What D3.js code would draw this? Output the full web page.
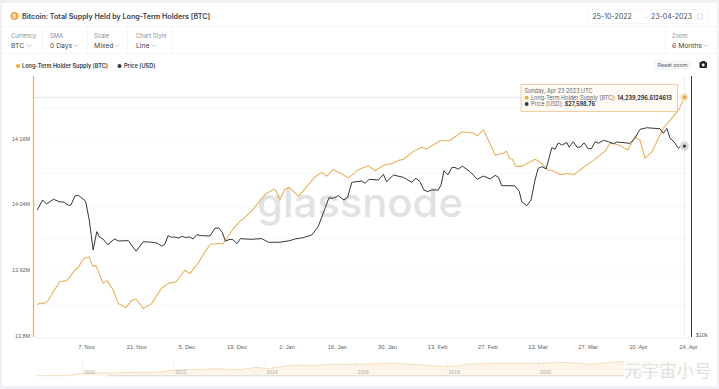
<!DOCTYPE html>
<html>
<head>
<meta charset="utf-8">
<script src="https://cdn.jsdelivr.net/npm/d3@7"></script>
<style>
  html, body { margin: 0; padding: 0; background: #fff; }
  svg { display: block; font-family: Inter, "Noto Sans", sans-serif; }
</style>
</head>
<body>
<svg id="chart" width="719" height="389"></svg>
<script>
// days counted from 7 Nov 2022
const supplyDays = [-13.6,-12.8,-11.7,-10.5,-9.1,-7.3,-5.4,-4.5,-3.1,-2.1,-1,-0.1,0.9,1.8,2.8,4.8,5.9,7.6,9,11.2,12.8,14,16,18.3,21.1,23,25.1,27.6,29,31.3,33.2,34.8,36,36.9,38.2,39.3,41.1,43,43.9,46.7,50,52.3,53,54.1,55.5,56.7,59.3,63.9,65.8,67.2,69,71.4,73.2,76,78.8,80.7,83,85.3,87.2,88.6,91.3,93.7,95.1,98.8,101.4,104.9,108.1,109.2,110.9,112.3,114.2,116.5,117.4,118.1,119,119.9,121.6,125.3,126.7,129,130,132.3,134.6,136.2,138.8,141.6,144.9,146.4,149,151.2,153.2,154.6,156,157.9,161.1,165.3,167];
const supplyValues = [13.86,13.863,13.862,13.868,13.884,13.902,13.904,13.911,13.923,13.928,13.942,13.946,13.947,13.931,13.931,13.899,13.904,13.887,13.862,13.855,13.868,13.87,13.853,13.862,13.89,13.899,13.902,13.923,13.917,13.936,13.957,13.971,13.971,13.972,13.971,13.982,13.999,14.013,14.017,14.035,14.062,14.071,14.069,14.052,14.071,14.075,14.058,14.094,14.102,14.095,14.107,14.099,14.092,14.107,14.114,14.105,14.115,14.118,14.124,14.126,14.14,14.148,14.145,14.16,14.16,14.176,14.174,14.169,14.18,14.161,14.134,14.137,14.141,14.128,14.126,14.113,14.113,14.126,14.121,14.106,14.106,14.098,14.1,14.098,14.111,14.124,14.141,14.157,14.151,14.143,14.167,14.161,14.128,14.139,14.183,14.215,14.2393];

const priceDays = [-13.6,-12.1,-11,-9.1,-7.5,-6.1,-4.9,-4.2,-3.1,-2.1,-0.1,0.9,2,3,3.7,4.8,6.1,7.9,9.1,11.8,14,16,18.3,20,21.1,22,22.9,23.9,24.6,25.8,26.9,27.8,28.8,29.9,30.9,32.3,34.6,36,37.1,38,38.9,40.2,41,42.1,43.1,46.1,49,50.9,54.1,56.9,58.3,60.6,63,64.8,66.2,67.8,69,70.4,72,73,74.2,76.9,77.9,79,81.6,83,83.9,85.8,88.6,90.9,92.1,93.2,94.3,95.3,96.5,98.3,99.1,99.9,101,102.1,103,103.9,105,107.2,109.2,110.9,112.8,114.2,115.1,116,119.7,120.9,121.6,123,124.2,125.3,126.2,127.2,128.4,130,130.9,131.8,132.8,134.2,134.8,136,137,137.9,139,140.2,141.1,142.1,143,144.4,145.8,147.2,148.1,151.8,153.2,154.6,156.5,160.2,161.1,162.1,163,164.1,165.3,166.3,167];
const priceValues = [19570,20650,20210,20730,20470,20400,20080,20100,21100,21180,20510,18550,15790,17420,16950,16720,16250,16750,16570,16600,15680,16510,16460,16370,16120,16280,17050,16900,16930,16840,16990,16870,16950,16750,17140,17050,17020,17750,17750,17350,16570,16720,16690,16340,16780,16720,16780,16460,16460,16600,16750,16870,17110,17900,19230,20900,20840,21130,20650,20950,22710,22870,22590,23080,22990,23690,22780,23610,23320,22710,23200,22780,21790,21610,21790,21790,22390,24170,23630,24580,24580,24360,24770,24040,23080,23490,23120,23580,23330,22310,22280,21640,20460,20020,20650,22990,24480,24700,24390,27350,27120,28070,27740,28120,27420,28240,27420,27420,28070,27160,27260,28240,28000,28450,28240,27910,28200,28000,28770,30180,30440,30280,29540,30330,28770,28240,27260,27740,27598.76];

const tickDays = [0,14,28,42,56,70,84,98,112,126,140,154,168];
const tickLabels = ['7. Nov','21. Nov','5. Dec','19. Dec','2. Jan','16. Jan','30. Jan','13. Feb','27. Feb','13. Mar','27. Mar','10. Apr','24. Apr'];
const supplyTicks = [13.8,13.92,14.04,14.16];
const supplyTickLabels = ['13.8M','13.92M','14.04M','14.16M'];
const supplyGrid = [13.86,13.92,13.98,14.04,14.1,14.16,14.22];

// navigator: whole history, years and supply in millions
const navYears = [2009.01,2009.67,2010,2010.61,2011.71,2012,2012.58,2013.02,2013.46,2013.83,2014.05,2014.62,2015.14,2015.49,2016.08,2016.81,2017.55,2017.83,2018.21,2018.42,2019.15,2019.96,2020.61,2021.12,2021.77,2023.3];
const navValues = [0,0,2.8,2.8,3.8,5.8,6.5,7.2,6.1,8.6,7.2,10.9,10.6,11.6,11.8,12.7,10.9,9.6,9.6,11.8,12.7,12.7,13.7,11.6,14.3,14.2];
const navTicks = [2010,2012,2014,2016,2018,2020,2022];

const orange = '#f0a63c', dark = '#33363c', lineOrange = '#e8b25f';

const svg = d3.select('#chart');

// page frame
svg.append('rect').attr('width', 719).attr('height', 389).attr('fill', '#eff1f4');
svg.append('rect').attr('x', 2).attr('y', 3).attr('width', 715).attr('height', 383).attr('fill', '#fff');

const label = (x, y, text, size, fill, weight, anchor) => svg.append('text')
  .attr('x', x).attr('y', y).attr('dy', '0.35em')
  .attr('font-size', size).attr('fill', fill)
  .attr('font-weight', weight || 400)
  .attr('text-anchor', anchor || 'start')
  .text(text);

const chevron = (x, y) => svg.append('path')
  .attr('d', `M${x - 2.5},${y - 1.2}L${x},${y + 1.2}L${x + 2.5},${y - 1.2}`)
  .attr('fill', 'none').attr('stroke', '#b5b9bf').attr('stroke-width', 0.7);

// header
svg.append('circle').attr('cx', 14.5).attr('cy', 16).attr('r', 4).attr('fill', orange);
label(14.5, 16, '₿', 5, '#fff', 700, 'middle');
label(22, 16, 'Bitcoin: Total Supply Held by Long-Term Holders [BTC]', 7.15, '#3d4148', 600);

svg.append('rect').attr('x', 587.5).attr('y', 9.5).attr('width', 121).attr('height', 14)
  .attr('fill', '#fff').attr('stroke', '#f0f1f3').attr('stroke-width', 0.7);
label(592.5, 16.5, '25-10-2022', 7, '#4a4e55');
label(651, 16.5, '23-04-2023', 7, '#4a4e55');
label(644.5, 16.5, '–', 6, '#c8cacd');
svg.append('rect').attr('x', 697.5).attr('y', 14).attr('width', 5).attr('height', 5)
  .attr('fill', 'none').attr('stroke', '#cfd2d6').attr('stroke-width', 0.7);

[[0, 719, 26.5], [0, 719, 53.5]].forEach(d => svg.append('line')
  .attr('x1', d[0] + 2).attr('x2', d[1] - 2).attr('y1', d[2]).attr('y2', d[2])
  .attr('stroke', '#f1f2f4').attr('stroke-width', 0.8));
[42.5, 87.5, 127.5, 172.5, 665.5].forEach(x => svg.append('line')
  .attr('x1', x).attr('x2', x).attr('y1', 27).attr('y2', 53)
  .attr('stroke', '#f1f2f4').attr('stroke-width', 0.8));

const controls = [
  {x: 11, name: 'Currency', value: 'BTC', cx: 29},
  {x: 50, name: 'SMA', value: '0 Days', cx: 76},
  {x: 94, name: 'Scale', value: 'Mixed', cx: 117},
  {x: 136, name: 'Chart Style', value: 'Line', cx: 154},
  {x: 672, name: 'Zoom', value: '6 Months', cx: 706}
];
controls.forEach(c => {
  label(c.x, 36, c.name, 5.8, '#8c9097');
  label(c.x, 45.5, c.value, 6.8, '#44484f');
  chevron(c.cx, 45.5);
});

// legend
svg.append('circle').attr('cx', 18).attr('cy', 66).attr('r', 2).attr('fill', orange);
label(22, 66, 'Long-Term Holder Supply [BTC]', 5.6, '#33373d', 600);
svg.append('circle').attr('cx', 119.5).attr('cy', 66).attr('r', 2).attr('fill', dark);
label(124, 66, 'Price [USD]', 5.6, '#33373d', 600);

// reset zoom + camera
svg.append('rect').attr('x', 654).attr('y', 60).attr('width', 37).attr('height', 10).attr('rx', 1.5).attr('fill', '#f6f7f8');
label(672.5, 65, 'Reset zoom', 5.4, '#5b5f66', 400, 'middle');
svg.append('rect').attr('x', 699.5).attr('y', 62).attr('width', 7.5).attr('height', 6).attr('rx', 1).attr('fill', '#24272c');
svg.append('rect').attr('x', 701.5).attr('y', 61).attr('width', 3.5).attr('height', 1.5).attr('fill', '#24272c');
svg.append('circle').attr('cx', 703.2).attr('cy', 65).attr('r', 1.4).attr('fill', '#fff');

// scales
const x = d3.scaleLinear().domain([0, 168]).range([86, 688]);
const y = d3.scaleLinear().domain([13.8, 14.16]).range([337.5, 140.7]);
const yPrice = d3.scaleLog().domain([10000, 27598.76]).range([335, 146]);

// grid
svg.append('g').selectAll('line').data(supplyGrid).enter().append('line')
  .attr('x1', 34).attr('x2', 691)
  .attr('y1', d => y(d)).attr('y2', d => y(d))
  .attr('stroke', '#f5f6f7').attr('stroke-width', 0.8);

// watermark sits under the lines
svg.append('text').attr('x', 257).attr('y', 217)
  .attr('font-size', 40).attr('font-family', 'Inter, Lato, sans-serif')
  .attr('fill', '#e2e2e3').attr('textLength', 206).attr('lengthAdjust', 'spacingAndGlyphs')
  .attr('font-weight', 500)
  .text('glassnode');

// axes
const xAxis = d3.axisBottom(x).tickValues(tickDays).tickSize(0)
  .tickFormat((d, i) => tickLabels[i]);
const gx = svg.append('g').attr('transform', 'translate(0,337.5)').call(xAxis);
gx.select('.domain').attr('stroke', '#f0f1f3').attr('d', 'M34,0.5H691');
gx.selectAll('text').attr('y', 7.5).attr('font-size', 5.8).attr('fill', '#5a5e65').attr('font-family', null);

const yAxis = d3.axisLeft(y).tickValues(supplyTicks).tickSize(0)
  .tickFormat((d, i) => supplyTickLabels[i]);
const gy = svg.append('g').attr('transform', 'translate(30,-2.2)').call(yAxis);
gy.select('.domain').remove();
gy.selectAll('text').attr('x', 0).attr('font-size', 5.4).attr('fill', '#5a5e65').attr('font-family', null);

const yPriceAxis = d3.axisRight(yPrice).tickValues([10000]).tickSize(0).tickFormat(() => '$10k');
const gr = svg.append('g').attr('transform', 'translate(696,0)').call(yPriceAxis);
gr.select('.domain').remove();
gr.selectAll('text').attr('x', 0).attr('font-size', 5.4).attr('fill', '#5a5e65').attr('font-family', null);

svg.append('line').attr('x1', 33.5).attr('x2', 33.5).attr('y1', 76).attr('y2', 337)
  .attr('stroke', lineOrange).attr('stroke-width', 1.3);
svg.append('line').attr('x1', 691.5).attr('x2', 691.5).attr('y1', 76).attr('y2', 337)
  .attr('stroke', '#3a3d42').attr('stroke-width', 1);

// crosshair
svg.append('line').attr('x1', 34).attr('x2', x(167))
  .attr('y1', y(14.2393)).attr('y2', y(14.2393))
  .attr('stroke', '#dfe1e3').attr('stroke-width', 0.8);
svg.append('line').attr('x1', x(167)).attr('x2', x(167)).attr('y1', 76).attr('y2', 337)
  .attr('stroke', '#e6e7e9').attr('stroke-width', 0.8);

// series
const supplyLine = d3.line().x(d => x(d[0])).y(d => y(d[1]));
const priceLine = d3.line().x(d => x(d[0])).y(d => yPrice(d[1]));

svg.append('path').datum(d3.zip(supplyDays, supplyValues))
  .attr('d', supplyLine).attr('fill', 'none')
  .attr('stroke', lineOrange).attr('stroke-width', 1.1).attr('stroke-linejoin', 'round');
svg.append('path').datum(d3.zip(priceDays, priceValues))
  .attr('d', priceLine).attr('fill', 'none')
  .attr('stroke', dark).attr('stroke-width', 1).attr('stroke-linejoin', 'round');

// hover markers
svg.append('circle').attr('cx', x(167)).attr('cy', yPrice(27598.76)).attr('r', 4.5).attr('fill', '#d8d9da');
svg.append('circle').attr('cx', x(167)).attr('cy', yPrice(27598.76)).attr('r', 1.6).attr('fill', dark);
svg.append('circle').attr('cx', x(167)).attr('cy', y(14.2393)).attr('r', 4).attr('fill', '#fbe6c4');
svg.append('circle').attr('cx', x(167)).attr('cy', y(14.2393)).attr('r', 2).attr('fill', orange);

// tooltip
svg.append('rect').attr('x', 521).attr('y', 84.5).attr('width', 156.5).attr('height', 27)
  .attr('fill', '#fffaf4').attr('stroke', '#f0c38b').attr('stroke-width', 0.8);
label(524.5, 91, 'Sunday, Apr 23 2023 UTC', 5.5, '#63676d');
svg.append('circle').attr('cx', 526.7).attr('cy', 97.7).attr('r', 1.9).attr('fill', orange);
const t1 = label(531, 97.7, 'Long-Term Holder Supply [BTC]: ', 5.5, '#63676d');
t1.append('tspan').attr('font-weight', 700).attr('fill', '#33373d').text('14,239,296.6124613');
svg.append('circle').attr('cx', 526.7).attr('cy', 104).attr('r', 1.9).attr('fill', dark);
const t2 = label(531, 104, 'Price [USD]: ', 5.5, '#63676d');
t2.append('tspan').attr('font-weight', 700).attr('fill', '#33373d').text('$27,598.76');

// navigator
const xNav = d3.scaleLinear().domain([2010, 2020]).range([82, 538]);
const yNav = d3.scaleLinear().domain([0, 14.24]).range([375.7, 361.8]);
const navData = d3.zip(navYears, navValues);

svg.append('path').datum(navData)
  .attr('d', d3.area().x(d => xNav(d[0])).y0(375.7).y1(d => yNav(d[1])))
  .attr('fill', '#fdf5e8');
svg.append('path').datum(navData)
  .attr('d', d3.line().x(d => xNav(d[0])).y(d => yNav(d[1])))
  .attr('fill', 'none').attr('stroke', '#ecd2a6').attr('stroke-width', 0.7);
svg.append('line').attr('x1', 107).attr('x2', 691).attr('y1', 375.8).attr('y2', 375.8)
  .attr('stroke', '#c9cbce').attr('stroke-width', 0.7);

const navAxis = d3.axisBottom(xNav).tickValues(navTicks).tickSize(0).tickFormat(d3.format('d'));
const gn = svg.append('g').attr('transform', 'translate(0,372)').call(navAxis);
gn.select('.domain').remove();
gn.selectAll('text').attr('y', 0).attr('dy', '0.35em').attr('text-anchor', 'start').attr('dx', 1.5)
  .attr('font-size', 5).attr('fill', '#a9acb0').attr('font-family', null);
gn.selectAll('.tick').append('line').attr('y1', -12).attr('y2', 0).attr('stroke', '#e8e9eb').attr('stroke-width', 0.6);

// site mark over the bottom right corner
svg.append('rect').attr('x', 624).attr('y', 361).attr('width', 90).attr('height', 20).attr('fill', '#fff').attr('opacity', 0.75);
svg.append('text').attr('x', 624).attr('y', 377)
  .attr('font-size', 17.5).attr('font-family', '"Noto Sans CJK SC", sans-serif')
  .attr('fill', '#e0e1e3').text('元宇宙小号');
</script>
</body>
</html>
